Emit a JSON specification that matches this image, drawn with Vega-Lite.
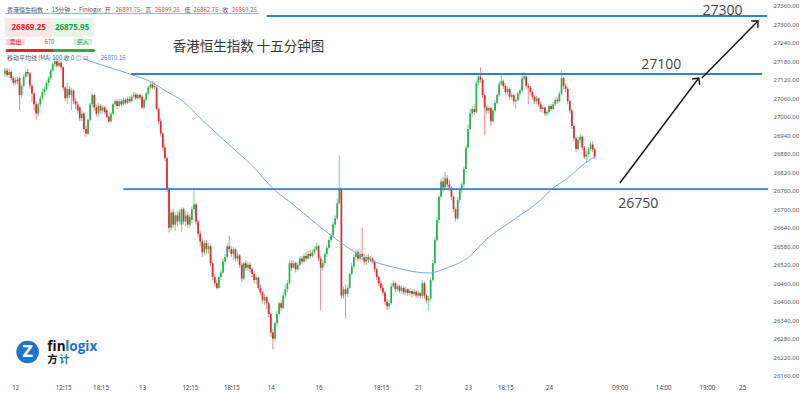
{
"$schema": "https://vega.github.io/schema/vega-lite/v6.json",
"width": 770, "height": 380,
"autosize": "none",
"padding": {"left": 0, "top": 0, "right": 30, "bottom": 13},
"background": "white",
"config": {"view": {"stroke": null}, "font": "Noto Sans",
"axis": {"labelOverlap": false, "labelFlush": false, "grid": false, "ticks": false, "domain": false, "title": null},
"axisX": {"labelFontSize": 6.2, "labelColor": "#444", "labelPadding": 4},
"axisY": {"labelFontSize": 6, "labelColor": "#555", "labelPadding": 3}
},
"datasets": {
"candles": [
{"t":0,"o":27140,"h":27160,"l":27130,"c":27150},
{"t":1,"o":27150,"h":27158,"l":27128,"c":27135},
{"t":2,"o":27135,"h":27155,"l":27125,"c":27145},
{"t":3,"o":27145,"h":27150,"l":27118,"c":27125},
{"t":4,"o":27125,"h":27132,"l":27100,"c":27110},
{"t":5,"o":27110,"h":27128,"l":27103,"c":27120},
{"t":6,"o":27120,"h":27130,"l":27105,"c":27115},
{"t":7,"o":27125,"h":27130,"l":27022,"c":27070},
{"t":8,"o":27070,"h":27105,"l":27060,"c":27100},
{"t":9,"o":27100,"h":27138,"l":27095,"c":27130},
{"t":10,"o":27130,"h":27152,"l":27125,"c":27145},
{"t":11,"o":27145,"h":27155,"l":27130,"c":27140},
{"t":12,"o":27140,"h":27145,"l":27090,"c":27100},
{"t":13,"o":27100,"h":27105,"l":27047,"c":27075},
{"t":14,"o":27075,"h":27080,"l":27020,"c":27040},
{"t":15,"o":27040,"h":27050,"l":26990,"c":27010},
{"t":16,"o":27010,"h":27045,"l":27000,"c":27040},
{"t":17,"o":27040,"h":27068,"l":27030,"c":27060},
{"t":18,"o":27060,"h":27090,"l":27052,"c":27080},
{"t":19,"o":27080,"h":27100,"l":27070,"c":27090},
{"t":20,"o":27090,"h":27118,"l":27082,"c":27110},
{"t":21,"o":27110,"h":27132,"l":27100,"c":27125},
{"t":22,"o":27125,"h":27158,"l":27118,"c":27150},
{"t":23,"o":27150,"h":27178,"l":27145,"c":27170},
{"t":24,"o":27170,"h":27192,"l":27160,"c":27180},
{"t":25,"o":27180,"h":27188,"l":27158,"c":27165},
{"t":26,"o":27165,"h":27185,"l":27160,"c":27175},
{"t":27,"o":27175,"h":27182,"l":27150,"c":27160},
{"t":28,"o":27160,"h":27165,"l":27085,"c":27095},
{"t":29,"o":27095,"h":27100,"l":27050,"c":27060},
{"t":30,"o":27060,"h":27110,"l":27040,"c":27090},
{"t":31,"o":27090,"h":27100,"l":27060,"c":27070},
{"t":32,"o":27070,"h":27095,"l":27022,"c":27085},
{"t":33,"o":27085,"h":27090,"l":27040,"c":27050},
{"t":34,"o":27050,"h":27060,"l":27025,"c":27040},
{"t":35,"o":27040,"h":27050,"l":27010,"c":27020},
{"t":36,"o":27030,"h":27035,"l":26985,"c":26995},
{"t":37,"o":26995,"h":27020,"l":26985,"c":27010},
{"t":38,"o":27010,"h":27015,"l":26950,"c":26960},
{"t":39,"o":26960,"h":26970,"l":26935,"c":26945},
{"t":40,"o":26945,"h":26995,"l":26940,"c":26990},
{"t":41,"o":26990,"h":27045,"l":26985,"c":27040},
{"t":42,"o":27040,"h":27078,"l":27030,"c":27070},
{"t":43,"o":27070,"h":27075,"l":27020,"c":27030},
{"t":44,"o":27030,"h":27040,"l":27000,"c":27010},
{"t":45,"o":27010,"h":27045,"l":27000,"c":27035},
{"t":46,"o":27035,"h":27040,"l":27010,"c":27020},
{"t":47,"o":27020,"h":27038,"l":27012,"c":27030},
{"t":48,"o":27030,"h":27035,"l":27008,"c":27015},
{"t":49,"o":27020,"h":27025,"l":26995,"c":27000},
{"t":50,"o":27000,"h":27005,"l":26980,"c":26985},
{"t":51,"o":26985,"h":27015,"l":26980,"c":27010},
{"t":52,"o":27010,"h":27045,"l":27005,"c":27040},
{"t":53,"o":27040,"h":27058,"l":27030,"c":27050},
{"t":54,"o":27050,"h":27055,"l":27025,"c":27035},
{"t":55,"o":27035,"h":27057,"l":27030,"c":27050},
{"t":56,"o":27050,"h":27058,"l":27032,"c":27040},
{"t":57,"o":27040,"h":27062,"l":27035,"c":27055},
{"t":58,"o":27055,"h":27060,"l":27038,"c":27045},
{"t":59,"o":27045,"h":27065,"l":27040,"c":27058},
{"t":60,"o":27058,"h":27066,"l":27045,"c":27050},
{"t":61,"o":27050,"h":27072,"l":27045,"c":27065},
{"t":62,"o":27065,"h":27080,"l":27058,"c":27072},
{"t":63,"o":27072,"h":27078,"l":27054,"c":27060},
{"t":64,"o":27060,"h":27076,"l":27055,"c":27070},
{"t":65,"o":27070,"h":27075,"l":27055,"c":27062},
{"t":66,"o":27065,"h":27070,"l":27025,"c":27030},
{"t":67,"o":27030,"h":27060,"l":27025,"c":27055},
{"t":68,"o":27055,"h":27080,"l":27050,"c":27075},
{"t":69,"o":27075,"h":27100,"l":27070,"c":27095},
{"t":70,"o":27095,"h":27115,"l":27088,"c":27105},
{"t":71,"o":27105,"h":27116,"l":27090,"c":27095},
{"t":72,"o":27095,"h":27112,"l":27088,"c":27100},
{"t":73,"o":27095,"h":27100,"l":27020,"c":27025},
{"t":74,"o":27025,"h":27030,"l":26975,"c":26985},
{"t":75,"o":26985,"h":26995,"l":26935,"c":26945},
{"t":76,"o":26945,"h":26950,"l":26890,"c":26900},
{"t":77,"o":26900,"h":26910,"l":26855,"c":26865},
{"t":78,"o":26865,"h":26870,"l":26755,"c":26765},
{"t":79,"o":26765,"h":26770,"l":26625,"c":26640},
{"t":80,"o":26640,"h":26700,"l":26630,"c":26690},
{"t":81,"o":26690,"h":26700,"l":26640,"c":26650},
{"t":82,"o":26650,"h":26690,"l":26630,"c":26680},
{"t":83,"o":26680,"h":26695,"l":26645,"c":26660},
{"t":84,"o":26660,"h":26700,"l":26650,"c":26690},
{"t":85,"o":26650,"h":26705,"l":26625,"c":26700},
{"t":86,"o":26700,"h":26705,"l":26650,"c":26660},
{"t":87,"o":26660,"h":26695,"l":26645,"c":26680},
{"t":88,"o":26680,"h":26690,"l":26640,"c":26650},
{"t":89,"o":26650,"h":26685,"l":26640,"c":26675},
{"t":90,"o":26665,"h":26710,"l":26655,"c":26700},
{"t":91,"o":26700,"h":26770,"l":26690,"c":26715},
{"t":92,"o":26715,"h":26720,"l":26650,"c":26660},
{"t":93,"o":26660,"h":26665,"l":26610,"c":26620},
{"t":94,"o":26620,"h":26630,"l":26580,"c":26595},
{"t":95,"o":26595,"h":26605,"l":26545,"c":26560},
{"t":96,"o":26560,"h":26600,"l":26550,"c":26590},
{"t":97,"o":26590,"h":26600,"l":26555,"c":26570},
{"t":98,"o":26570,"h":26590,"l":26555,"c":26580},
{"t":99,"o":26580,"h":26585,"l":26515,"c":26525},
{"t":100,"o":26525,"h":26530,"l":26470,"c":26480},
{"t":101,"o":26480,"h":26490,"l":26450,"c":26460},
{"t":102,"o":26460,"h":26470,"l":26440,"c":26445},
{"t":103,"o":26445,"h":26485,"l":26440,"c":26480},
{"t":104,"o":26480,"h":26505,"l":26470,"c":26495},
{"t":105,"o":26495,"h":26540,"l":26490,"c":26530},
{"t":106,"o":26530,"h":26555,"l":26520,"c":26545},
{"t":107,"o":26545,"h":26590,"l":26540,"c":26580},
{"t":108,"o":26580,"h":26615,"l":26560,"c":26570},
{"t":109,"o":26570,"h":26580,"l":26545,"c":26555},
{"t":110,"o":26555,"h":26578,"l":26535,"c":26570},
{"t":111,"o":26570,"h":26575,"l":26530,"c":26540},
{"t":112,"o":26540,"h":26560,"l":26530,"c":26550},
{"t":113,"o":26550,"h":26555,"l":26510,"c":26520},
{"t":114,"o":26520,"h":26525,"l":26465,"c":26475},
{"t":115,"o":26475,"h":26530,"l":26470,"c":26525},
{"t":116,"o":26525,"h":26535,"l":26500,"c":26510},
{"t":117,"o":26510,"h":26530,"l":26500,"c":26520},
{"t":118,"o":26520,"h":26528,"l":26495,"c":26505},
{"t":119,"o":26505,"h":26510,"l":26480,"c":26490},
{"t":120,"o":26490,"h":26495,"l":26460,"c":26470},
{"t":121,"o":26470,"h":26485,"l":26455,"c":26478},
{"t":122,"o":26478,"h":26482,"l":26438,"c":26445},
{"t":123,"o":26445,"h":26455,"l":26420,"c":26430},
{"t":124,"o":26430,"h":26435,"l":26395,"c":26405},
{"t":125,"o":26405,"h":26425,"l":26390,"c":26415},
{"t":126,"o":26415,"h":26420,"l":26375,"c":26395},
{"t":127,"o":26395,"h":26400,"l":26350,"c":26360},
{"t":128,"o":26360,"h":26365,"l":26285,"c":26300},
{"t":129,"o":26300,"h":26310,"l":26245,"c":26280},
{"t":130,"o":26280,"h":26335,"l":26270,"c":26330},
{"t":131,"o":26330,"h":26370,"l":26320,"c":26360},
{"t":132,"o":26360,"h":26400,"l":26355,"c":26395},
{"t":133,"o":26395,"h":26405,"l":26370,"c":26380},
{"t":134,"o":26380,"h":26430,"l":26375,"c":26420},
{"t":135,"o":26420,"h":26455,"l":26410,"c":26440},
{"t":136,"o":26440,"h":26470,"l":26430,"c":26460},
{"t":137,"o":26460,"h":26535,"l":26455,"c":26525},
{"t":138,"o":26525,"h":26535,"l":26500,"c":26510},
{"t":139,"o":26510,"h":26535,"l":26505,"c":26525},
{"t":140,"o":26525,"h":26530,"l":26495,"c":26505},
{"t":141,"o":26505,"h":26530,"l":26500,"c":26520},
{"t":142,"o":26520,"h":26548,"l":26515,"c":26540},
{"t":143,"o":26540,"h":26550,"l":26522,"c":26530},
{"t":144,"o":26530,"h":26558,"l":26525,"c":26548},
{"t":145,"o":26548,"h":26560,"l":26530,"c":26540},
{"t":146,"o":26540,"h":26565,"l":26535,"c":26555},
{"t":147,"o":26555,"h":26568,"l":26540,"c":26548},
{"t":148,"o":26548,"h":26570,"l":26542,"c":26560},
{"t":149,"o":26560,"h":26578,"l":26552,"c":26570},
{"t":150,"o":26570,"h":26590,"l":26565,"c":26580},
{"t":151,"o":26580,"h":26585,"l":26530,"c":26540},
{"t":152,"o":26540,"h":26548,"l":26373,"c":26510},
{"t":153,"o":26510,"h":26535,"l":26500,"c":26525},
{"t":154,"o":26525,"h":26560,"l":26518,"c":26555},
{"t":155,"o":26555,"h":26582,"l":26545,"c":26575},
{"t":156,"o":26575,"h":26610,"l":26570,"c":26600},
{"t":157,"o":26600,"h":26622,"l":26592,"c":26615},
{"t":158,"o":26615,"h":26660,"l":26610,"c":26650},
{"t":159,"o":26650,"h":26680,"l":26640,"c":26670},
{"t":160,"o":26670,"h":26735,"l":26665,"c":26720},
{"t":161,"o":26720,"h":26875,"l":26715,"c":26765},
{"t":162,"o":26765,"h":26770,"l":26410,"c":26420},
{"t":163,"o":26420,"h":26450,"l":26410,"c":26440},
{"t":164,"o":26440,"h":26455,"l":26345,"c":26425},
{"t":165,"o":26425,"h":26455,"l":26415,"c":26445},
{"t":166,"o":26445,"h":26495,"l":26440,"c":26490},
{"t":167,"o":26490,"h":26525,"l":26485,"c":26515},
{"t":168,"o":26515,"h":26552,"l":26505,"c":26545},
{"t":169,"o":26545,"h":26570,"l":26535,"c":26560},
{"t":170,"o":26560,"h":26570,"l":26530,"c":26540},
{"t":171,"o":26540,"h":26565,"l":26530,"c":26555},
{"t":172,"o":26555,"h":26640,"l":26535,"c":26545},
{"t":173,"o":26545,"h":26555,"l":26520,"c":26530},
{"t":174,"o":26530,"h":26552,"l":26518,"c":26545},
{"t":175,"o":26545,"h":26555,"l":26525,"c":26535},
{"t":176,"o":26535,"h":26548,"l":26528,"c":26540},
{"t":177,"o":26540,"h":26546,"l":26522,"c":26530},
{"t":178,"o":26530,"h":26535,"l":26495,"c":26505},
{"t":179,"o":26505,"h":26510,"l":26470,"c":26480},
{"t":180,"o":26480,"h":26485,"l":26450,"c":26460},
{"t":181,"o":26460,"h":26468,"l":26435,"c":26445},
{"t":182,"o":26445,"h":26455,"l":26420,"c":26430},
{"t":183,"o":26430,"h":26435,"l":26390,"c":26400},
{"t":184,"o":26400,"h":26410,"l":26373,"c":26385},
{"t":185,"o":26385,"h":26405,"l":26375,"c":26395},
{"t":186,"o":26395,"h":26460,"l":26390,"c":26450},
{"t":187,"o":26450,"h":26470,"l":26445,"c":26460},
{"t":188,"o":26460,"h":26465,"l":26430,"c":26440},
{"t":189,"o":26440,"h":26458,"l":26432,"c":26450},
{"t":190,"o":26450,"h":26455,"l":26428,"c":26435},
{"t":191,"o":26435,"h":26452,"l":26425,"c":26445},
{"t":192,"o":26445,"h":26450,"l":26422,"c":26430},
{"t":193,"o":26430,"h":26448,"l":26420,"c":26440},
{"t":194,"o":26440,"h":26445,"l":26418,"c":26428},
{"t":195,"o":26428,"h":26445,"l":26420,"c":26435},
{"t":196,"o":26435,"h":26440,"l":26415,"c":26425},
{"t":197,"o":26425,"h":26440,"l":26418,"c":26432},
{"t":198,"o":26432,"h":26438,"l":26412,"c":26420},
{"t":199,"o":26420,"h":26435,"l":26412,"c":26428},
{"t":200,"o":26428,"h":26432,"l":26410,"c":26418},
{"t":201,"o":26418,"h":26470,"l":26412,"c":26460},
{"t":202,"o":26460,"h":26465,"l":26410,"c":26420},
{"t":203,"o":26420,"h":26425,"l":26395,"c":26405},
{"t":204,"o":26405,"h":26418,"l":26370,"c":26410},
{"t":205,"o":26410,"h":26478,"l":26402,"c":26470},
{"t":206,"o":26470,"h":26535,"l":26465,"c":26525},
{"t":207,"o":26525,"h":26610,"l":26520,"c":26600},
{"t":208,"o":26600,"h":26675,"l":26595,"c":26665},
{"t":209,"o":26665,"h":26745,"l":26655,"c":26740},
{"t":210,"o":26740,"h":26800,"l":26730,"c":26790},
{"t":211,"o":26790,"h":26805,"l":26755,"c":26770},
{"t":212,"o":26770,"h":26820,"l":26765,"c":26800},
{"t":213,"o":26800,"h":26810,"l":26770,"c":26780},
{"t":214,"o":26780,"h":26795,"l":26760,"c":26770},
{"t":215,"o":26770,"h":26775,"l":26730,"c":26740},
{"t":216,"o":26740,"h":26745,"l":26690,"c":26700},
{"t":217,"o":26700,"h":26705,"l":26660,"c":26670},
{"t":218,"o":26670,"h":26740,"l":26665,"c":26730},
{"t":219,"o":26730,"h":26770,"l":26720,"c":26765},
{"t":220,"o":26765,"h":26790,"l":26750,"c":26780},
{"t":221,"o":26780,"h":26838,"l":26770,"c":26830},
{"t":222,"o":26830,"h":26910,"l":26820,"c":26900},
{"t":223,"o":26900,"h":26975,"l":26895,"c":26960},
{"t":224,"o":26960,"h":27025,"l":26955,"c":27010},
{"t":225,"o":27010,"h":27035,"l":27000,"c":27025},
{"t":226,"o":27025,"h":27040,"l":27005,"c":27015},
{"t":227,"o":27015,"h":27120,"l":27010,"c":27110},
{"t":228,"o":27110,"h":27140,"l":27100,"c":27130},
{"t":229,"o":27130,"h":27160,"l":27110,"c":27120},
{"t":230,"o":27120,"h":27125,"l":27060,"c":27070},
{"t":231,"o":27070,"h":27075,"l":26940,"c":27030},
{"t":232,"o":27030,"h":27038,"l":27008,"c":27020},
{"t":233,"o":27020,"h":27035,"l":27010,"c":27028},
{"t":234,"o":27028,"h":27032,"l":26970,"c":26985},
{"t":235,"o":26985,"h":27025,"l":26980,"c":27020},
{"t":236,"o":27020,"h":27052,"l":27015,"c":27045},
{"t":237,"o":27045,"h":27075,"l":27040,"c":27070},
{"t":238,"o":27070,"h":27115,"l":27065,"c":27105},
{"t":239,"o":27105,"h":27135,"l":27100,"c":27115},
{"t":240,"o":27115,"h":27120,"l":27090,"c":27100},
{"t":241,"o":27100,"h":27108,"l":27070,"c":27080},
{"t":242,"o":27080,"h":27098,"l":27072,"c":27090},
{"t":243,"o":27090,"h":27095,"l":27055,"c":27065},
{"t":244,"o":27065,"h":27078,"l":27055,"c":27070},
{"t":245,"o":27070,"h":27075,"l":27040,"c":27050},
{"t":246,"o":27050,"h":27062,"l":27025,"c":27055},
{"t":247,"o":27055,"h":27082,"l":27050,"c":27075},
{"t":248,"o":27075,"h":27092,"l":27068,"c":27085},
{"t":249,"o":27085,"h":27135,"l":27080,"c":27125},
{"t":250,"o":27125,"h":27145,"l":27118,"c":27130},
{"t":251,"o":27130,"h":27135,"l":27090,"c":27100},
{"t":252,"o":27100,"h":27108,"l":27040,"c":27095},
{"t":253,"o":27095,"h":27100,"l":27070,"c":27080},
{"t":254,"o":27080,"h":27088,"l":27055,"c":27065},
{"t":255,"o":27065,"h":27070,"l":27042,"c":27050},
{"t":256,"o":27050,"h":27068,"l":27040,"c":27060},
{"t":257,"o":27060,"h":27062,"l":27030,"c":27040},
{"t":258,"o":27040,"h":27048,"l":27015,"c":27025},
{"t":259,"o":27025,"h":27038,"l":27012,"c":27030},
{"t":260,"o":27030,"h":27035,"l":27002,"c":27010},
{"t":261,"o":27010,"h":27022,"l":27000,"c":27015},
{"t":262,"o":27015,"h":27040,"l":27008,"c":27035},
{"t":263,"o":27035,"h":27042,"l":27018,"c":27025},
{"t":264,"o":27025,"h":27048,"l":27020,"c":27040},
{"t":265,"o":27040,"h":27062,"l":27035,"c":27055},
{"t":266,"o":27055,"h":27062,"l":27042,"c":27050},
{"t":267,"o":27050,"h":27082,"l":27045,"c":27075},
{"t":268,"o":27075,"h":27150,"l":27070,"c":27125},
{"t":269,"o":27125,"h":27130,"l":27090,"c":27100},
{"t":270,"o":27100,"h":27108,"l":27080,"c":27090},
{"t":271,"o":27090,"h":27095,"l":27040,"c":27050},
{"t":272,"o":27050,"h":27055,"l":27010,"c":27020},
{"t":273,"o":27020,"h":27025,"l":26960,"c":26970},
{"t":274,"o":26970,"h":26975,"l":26920,"c":26930},
{"t":275,"o":26930,"h":26935,"l":26885,"c":26895},
{"t":276,"o":26895,"h":26935,"l":26890,"c":26925},
{"t":277,"o":26925,"h":26945,"l":26915,"c":26935},
{"t":278,"o":26935,"h":26940,"l":26890,"c":26900},
{"t":279,"o":26900,"h":26905,"l":26862,"c":26870},
{"t":280,"o":26870,"h":26888,"l":26850,"c":26878},
{"t":281,"o":26878,"h":26902,"l":26870,"c":26895},
{"t":282,"o":26895,"h":26918,"l":26888,"c":26910},
{"t":283,"o":26910,"h":26920,"l":26885,"c":26893},
{"t":284,"o":26893.75,"h":26899.25,"l":26862.75,"c":26869.25}
]
},
"layer": [
{
"data": {"name": "candles"},
"mark": {"type": "rule", "strokeWidth": 0.8},
"encoding": {
"x": {"field": "t", "type": "quantitative", "title": null, "scale": {"domain": [0, 366], "nice": false, "zero": false},
"axis": {"values": [5,28,46,66,89,109,128,151,181,199,223,241,262,296,317,338,355],
"labelExpr": "['12','12:15','18:15','13','12:15','18:15','14','16','18:15','21','23','18:15','24','09:00','14:00','19:00','25'][indexof([5,28,46,66,89,109,128,151,181,199,223,241,262,296,317,338,355], datum.value)]",
"labelOverlap": false, "title": null}},
"y": {"field": "l", "type": "quantitative", "title": null, "scale": {"domain": [26146, 27378.5], "nice": false, "zero": false},
"axis": {"orient": "right", "values": [26160,26220,26280,26340,26400,26460,26520,26580,26640,26700,26760,26820,26880,26940,27000,27060,27120,27180,27240,27300,27360],
"format": ".2f", "labelOverlap": false, "title": null}},
"y2": {"field": "h"},
"color": {"condition": {"test": "datum.c >= datum.o", "value": "#5cc97a"}, "value": "#e66a6a"}
}
},
{
"data": {"name": "candles"},
"mark": {"type": "bar", "width": 1.7},
"encoding": {
"x": {"field": "t", "type": "quantitative", "title": null, "scale": {"domain": [0, 366], "nice": false, "zero": false},
"axis": {"values": [5,28,46,66,89,109,128,151,181,199,223,241,262,296,317,338,355],
"labelExpr": "['12','12:15','18:15','13','12:15','18:15','14','16','18:15','21','23','18:15','24','09:00','14:00','19:00','25'][indexof([5,28,46,66,89,109,128,151,181,199,223,241,262,296,317,338,355], datum.value)]",
"labelOverlap": false, "title": null}},
"y": {"field": "o", "type": "quantitative", "title": null, "scale": {"domain": [26146, 27378.5], "nice": false, "zero": false},
"axis": {"orient": "right", "values": [26160,26220,26280,26340,26400,26460,26520,26580,26640,26700,26760,26820,26880,26940,27000,27060,27120,27180,27240,27300,27360],
"format": ".2f", "labelOverlap": false, "title": null}},
"y2": {"field": "c"},
"color": {"condition": {"test": "datum.c >= datum.o", "value": "#24b14c"}, "value": "#e0262c"}
}
},
{
"data": {"values": [
{"t":38,"m":27187},{"t":50,"m":27160},{"t":60.4,"m":27138},{"t":70.3,"m":27113},{"t":77.5,"m":27083},{"t":85.5,"m":27051},{"t":95,"m":26989},{"t":110.7,"m":26892},{"t":118.8,"m":26843},{"t":129.8,"m":26762},{"t":137.8,"m":26720},{"t":156.8,"m":26616},{"t":172.5,"m":26545},{"t":188.7,"m":26509},{"t":204.4,"m":26493},{"t":212.5,"m":26509},{"t":223.4,"m":26545},{"t":231.5,"m":26600},{"t":247,"m":26675},{"t":258,"m":26730},{"t":262.8,"m":26762},{"t":271,"m":26801},{"t":279.5,"m":26850},{"t":284,"m":26870}
]},
"mark": {"type": "line", "color": "#78a9d2", "strokeWidth": 1, "interpolate": "monotone"},
"encoding": {
"x": {"field": "t", "type": "quantitative", "title": null, "scale": {"domain": [0, 366], "nice": false, "zero": false},
"axis": {"values": [5,28,46,66,89,109,128,151,181,199,223,241,262,296,317,338,355],
"labelExpr": "['12','12:15','18:15','13','12:15','18:15','14','16','18:15','21','23','18:15','24','09:00','14:00','19:00','25'][indexof([5,28,46,66,89,109,128,151,181,199,223,241,262,296,317,338,355], datum.value)]",
"labelOverlap": false, "title": null}},
"y": {"field": "m", "type": "quantitative", "title": null, "scale": {"domain": [26146, 27378.5], "nice": false, "zero": false},
"axis": {"orient": "right", "values": [26160,26220,26280,26340,26400,26460,26520,26580,26640,26700,26760,26820,26880,26940,27000,27060,27120,27180,27240,27300,27360],
"format": ".2f", "labelOverlap": false, "title": null}}
}
},
{
"data": {"values": [
{"t1":126,"t2":367,"p":27326.6},
{"t1":60.8,"t2":364.6,"p":27138.5},
{"t1":57,"t2":367.4,"p":26765}
]},
"mark": {"type": "rule", "color": "#2b83d6", "strokeWidth": 1.8},
"encoding": {
"x": {"field": "t1", "type": "quantitative", "title": null, "scale": {"domain": [0, 366], "nice": false, "zero": false},
"axis": {"values": [5,28,46,66,89,109,128,151,181,199,223,241,262,296,317,338,355],
"labelExpr": "['12','12:15','18:15','13','12:15','18:15','14','16','18:15','21','23','18:15','24','09:00','14:00','19:00','25'][indexof([5,28,46,66,89,109,128,151,181,199,223,241,262,296,317,338,355], datum.value)]",
"labelOverlap": false, "title": null}},
"x2": {"field": "t2"},
"y": {"field": "p", "type": "quantitative", "title": null, "scale": {"domain": [26146, 27378.5], "nice": false, "zero": false},
"axis": {"orient": "right", "values": [26160,26220,26280,26340,26400,26460,26520,26580,26640,26700,26760,26820,26880,26940,27000,27060,27120,27180,27240,27300,27360],
"format": ".2f", "labelOverlap": false, "title": null}}
}
},
{
"data": {"values": [
{"t1":296.1,"p1":26785,"t2":334.1,"p2":27125.5},
{"t1":335.6,"p1":27125.5,"t2":362.6,"p2":27310.4}
]},
"mark": {"type": "rule", "color": "#111", "strokeWidth": 1.4},
"encoding": {
"x": {"field": "t1", "type": "quantitative", "title": null, "scale": {"domain": [0, 366], "nice": false, "zero": false},
"axis": {"values": [5,28,46,66,89,109,128,151,181,199,223,241,262,296,317,338,355],
"labelExpr": "['12','12:15','18:15','13','12:15','18:15','14','16','18:15','21','23','18:15','24','09:00','14:00','19:00','25'][indexof([5,28,46,66,89,109,128,151,181,199,223,241,262,296,317,338,355], datum.value)]",
"labelOverlap": false, "title": null}},
"x2": {"field": "t2"},
"y": {"field": "p1", "type": "quantitative", "title": null, "scale": {"domain": [26146, 27378.5], "nice": false, "zero": false},
"axis": {"orient": "right", "values": [26160,26220,26280,26340,26400,26460,26520,26580,26640,26700,26760,26820,26880,26940,27000,27060,27120,27180,27240,27300,27360],
"format": ".2f", "labelOverlap": false, "title": null}},
"y2": {"field": "p2"}
}
},
{
"data": {"values": [{"t":334.1,"p":27125.5}]},
"mark": {"type": "point", "shape": "M-1,1L0,0L1,1", "size": 90, "filled": false, "stroke": "#111", "strokeWidth": 1.4, "angle": 37, "opacity": 1},
"encoding": {
"x": {"field": "t", "type": "quantitative", "title": null, "scale": {"domain": [0, 366], "nice": false, "zero": false},
"axis": {"values": [5,28,46,66,89,109,128,151,181,199,223,241,262,296,317,338,355],
"labelExpr": "['12','12:15','18:15','13','12:15','18:15','14','16','18:15','21','23','18:15','24','09:00','14:00','19:00','25'][indexof([5,28,46,66,89,109,128,151,181,199,223,241,262,296,317,338,355], datum.value)]",
"labelOverlap": false, "title": null}},
"y": {"field": "p", "type": "quantitative", "title": null, "scale": {"domain": [26146, 27378.5], "nice": false, "zero": false},
"axis": {"orient": "right", "values": [26160,26220,26280,26340,26400,26460,26520,26580,26640,26700,26760,26820,26880,26940,27000,27060,27120,27180,27240,27300,27360],
"format": ".2f", "labelOverlap": false, "title": null}}
}
},
{
"data": {"values": [{"t":362.6,"p":27310.4}]},
"mark": {"type": "point", "shape": "M-1,1L0,0L1,1", "size": 90, "filled": false, "stroke": "#111", "strokeWidth": 1.4, "angle": 45, "opacity": 1},
"encoding": {
"x": {"field": "t", "type": "quantitative", "title": null, "scale": {"domain": [0, 366], "nice": false, "zero": false},
"axis": {"values": [5,28,46,66,89,109,128,151,181,199,223,241,262,296,317,338,355],
"labelExpr": "['12','12:15','18:15','13','12:15','18:15','14','16','18:15','21','23','18:15','24','09:00','14:00','19:00','25'][indexof([5,28,46,66,89,109,128,151,181,199,223,241,262,296,317,338,355], datum.value)]",
"labelOverlap": false, "title": null}},
"y": {"field": "p", "type": "quantitative", "title": null, "scale": {"domain": [26146, 27378.5], "nice": false, "zero": false},
"axis": {"orient": "right", "values": [26160,26220,26280,26340,26400,26460,26520,26580,26640,26700,26760,26820,26880,26940,27000,27060,27120,27180,27240,27300,27360],
"format": ".2f", "labelOverlap": false, "title": null}}
}
},
{
"data": {"values": [
{"t":345.5,"p":27343,"s":"27300"},
{"t":316,"p":27168,"s":"27100"},
{"t":305,"p":26717,"s":"26750"}
]},
"mark": {"type": "text", "font": "Open Sans", "fontSize": 14, "color": "#444", "align": "center", "baseline": "middle"},
"encoding": {
"x": {"field": "t", "type": "quantitative", "title": null, "scale": {"domain": [0, 366], "nice": false, "zero": false},
"axis": {"values": [5,28,46,66,89,109,128,151,181,199,223,241,262,296,317,338,355],
"labelExpr": "['12','12:15','18:15','13','12:15','18:15','14','16','18:15','21','23','18:15','24','09:00','14:00','19:00','25'][indexof([5,28,46,66,89,109,128,151,181,199,223,241,262,296,317,338,355], datum.value)]",
"labelOverlap": false, "title": null}},
"y": {"field": "p", "type": "quantitative", "title": null, "scale": {"domain": [26146, 27378.5], "nice": false, "zero": false},
"axis": {"orient": "right", "values": [26160,26220,26280,26340,26400,26460,26520,26580,26640,26700,26760,26820,26880,26940,27000,27060,27120,27180,27240,27300,27360],
"format": ".2f", "labelOverlap": false, "title": null}},
"text": {"field": "s"}
}
},
{
"data": {"values": [{"t":80.8,"p":27226,"s":"香港恒生指数 十五分钟图"}]},
"mark": {"type": "text", "font": "Noto Sans CJK SC", "fontSize": 13.5, "color": "#333", "align": "left", "baseline": "middle"},
"encoding": {
"x": {"field": "t", "type": "quantitative", "title": null, "scale": {"domain": [0, 366], "nice": false, "zero": false},
"axis": {"values": [5,28,46,66,89,109,128,151,181,199,223,241,262,296,317,338,355],
"labelExpr": "['12','12:15','18:15','13','12:15','18:15','14','16','18:15','21','23','18:15','24','09:00','14:00','19:00','25'][indexof([5,28,46,66,89,109,128,151,181,199,223,241,262,296,317,338,355], datum.value)]",
"labelOverlap": false, "title": null}},
"y": {"field": "p", "type": "quantitative", "title": null, "scale": {"domain": [26146, 27378.5], "nice": false, "zero": false},
"axis": {"orient": "right", "values": [26160,26220,26280,26340,26400,26460,26520,26580,26640,26700,26760,26820,26880,26940,27000,27060,27120,27180,27240,27300,27360],
"format": ".2f", "labelOverlap": false, "title": null}},
"text": {"field": "s"}
}
},
{
"data": {"values": [{"t1":0,"t2":122,"p":27334.7}]},
"mark": {"type": "rule", "color": "#9fb4c8", "strokeWidth": 1},
"encoding": {
"x": {"field": "t1", "type": "quantitative", "title": null, "scale": {"domain": [0, 366], "nice": false, "zero": false},
"axis": {"values": [5,28,46,66,89,109,128,151,181,199,223,241,262,296,317,338,355],
"labelExpr": "['12','12:15','18:15','13','12:15','18:15','14','16','18:15','21','23','18:15','24','09:00','14:00','19:00','25'][indexof([5,28,46,66,89,109,128,151,181,199,223,241,262,296,317,338,355], datum.value)]",
"labelOverlap": false, "title": null}},
"x2": {"field": "t2"},
"y": {"field": "p", "type": "quantitative", "title": null, "scale": {"domain": [26146, 27378.5], "nice": false, "zero": false},
"axis": {"orient": "right", "values": [26160,26220,26280,26340,26400,26460,26520,26580,26640,26700,26760,26820,26880,26940,27000,27060,27120,27180,27240,27300,27360],
"format": ".2f", "labelOverlap": false, "title": null}}
}
},
{
"data": {"values": [
{"t":0.95,"p":27346,"s":"香港恒生指数 · 15分钟 · Finlogix","k":"g"},
{"t":48,"p":27346,"s":"开","k":"g"},
{"t":53.2,"p":27346,"s":"26893.75","k":"r"},
{"t":67.5,"p":27346,"s":"高","k":"g"},
{"t":72.2,"p":27346,"s":"26899.25","k":"r"},
{"t":86.5,"p":27346,"s":"低","k":"g"},
{"t":90.8,"p":27346,"s":"26862.75","k":"r"},
{"t":104.6,"p":27346,"s":"收","k":"g"},
{"t":109.3,"p":27346,"s":"26869.25","k":"r"},
{"t":0.95,"p":27190,"s":"移动平均线 (MA)  100  收  0  ◎  ⊡","k":"g"},
{"t":46.1,"p":27190,"s":"26870.16","k":"b"}
]},
"mark": {"type": "text", "font": "Noto Sans CJK SC", "fontSize": 6, "align": "left", "baseline": "middle"},
"encoding": {
"x": {"field": "t", "type": "quantitative", "title": null, "scale": {"domain": [0, 366], "nice": false, "zero": false},
"axis": {"values": [5,28,46,66,89,109,128,151,181,199,223,241,262,296,317,338,355],
"labelExpr": "['12','12:15','18:15','13','12:15','18:15','14','16','18:15','21','23','18:15','24','09:00','14:00','19:00','25'][indexof([5,28,46,66,89,109,128,151,181,199,223,241,262,296,317,338,355], datum.value)]",
"labelOverlap": false, "title": null}},
"y": {"field": "p", "type": "quantitative", "title": null, "scale": {"domain": [26146, 27378.5], "nice": false, "zero": false},
"axis": {"orient": "right", "values": [26160,26220,26280,26340,26400,26460,26520,26580,26640,26700,26760,26820,26880,26940,27000,27060,27120,27180,27240,27300,27360],
"format": ".2f", "labelOverlap": false, "title": null}},
"text": {"field": "s"},
"color": {"field": "k", "type": "nominal", "scale": {"domain": ["g","r","b"], "range": ["#555555","#e0474c","#4a8cc2"]}, "legend": null}
}
},
{
"data": {"values": [
{"t1":0,"t2":22.8,"p1":27320,"p2":27258.5,"k":"s"},
{"t1":22.8,"t2":42.8,"p1":27320,"p2":27258.5,"k":"b"},
{"t1":0.5,"t2":9.5,"p1":27252,"p2":27232.5,"k":"s2"},
{"t1":33,"t2":42,"p1":27252,"p2":27232.5,"k":"b2"}
]},
"mark": {"type": "rect"},
"encoding": {
"x": {"field": "t1", "type": "quantitative", "title": null, "scale": {"domain": [0, 366], "nice": false, "zero": false},
"axis": {"values": [5,28,46,66,89,109,128,151,181,199,223,241,262,296,317,338,355],
"labelExpr": "['12','12:15','18:15','13','12:15','18:15','14','16','18:15','21','23','18:15','24','09:00','14:00','19:00','25'][indexof([5,28,46,66,89,109,128,151,181,199,223,241,262,296,317,338,355], datum.value)]",
"labelOverlap": false, "title": null}},
"x2": {"field": "t2"},
"y": {"field": "p1", "type": "quantitative", "title": null, "scale": {"domain": [26146, 27378.5], "nice": false, "zero": false},
"axis": {"orient": "right", "values": [26160,26220,26280,26340,26400,26460,26520,26580,26640,26700,26760,26820,26880,26940,27000,27060,27120,27180,27240,27300,27360],
"format": ".2f", "labelOverlap": false, "title": null}},
"y2": {"field": "p2"},
"fill": {"field": "k", "type": "nominal", "scale": {"domain": ["s","b","s2","b2"], "range": ["#fde6e6","#e4f6e8","#f9d3d3","#cfeed7"]}, "legend": null}
}
},
{
"data": {"values": [
{"t1":1,"t2":23.8,"p":27214.7,"k":"s"},
{"t1":23.8,"t2":42.8,"p":27214.7,"k":"b"}
]},
"mark": {"type": "rule", "strokeWidth": 3, "strokeCap": "round"},
"encoding": {
"x": {"field": "t1", "type": "quantitative", "title": null, "scale": {"domain": [0, 366], "nice": false, "zero": false},
"axis": {"values": [5,28,46,66,89,109,128,151,181,199,223,241,262,296,317,338,355],
"labelExpr": "['12','12:15','18:15','13','12:15','18:15','14','16','18:15','21','23','18:15','24','09:00','14:00','19:00','25'][indexof([5,28,46,66,89,109,128,151,181,199,223,241,262,296,317,338,355], datum.value)]",
"labelOverlap": false, "title": null}},
"x2": {"field": "t2"},
"y": {"field": "p", "type": "quantitative", "title": null, "scale": {"domain": [26146, 27378.5], "nice": false, "zero": false},
"axis": {"orient": "right", "values": [26160,26220,26280,26340,26400,26460,26520,26580,26640,26700,26760,26820,26880,26940,27000,27060,27120,27180,27240,27300,27360],
"format": ".2f", "labelOverlap": false, "title": null}},
"color": {"field": "k", "type": "nominal", "scale": {"domain": ["s","b"], "range": ["#e0262c","#24b14c"]}, "legend": null}
}
},
{
"data": {"values": [
{"t":11.4,"p":27287.7,"s":"26869.25","k":"s"},
{"t":32.3,"p":27287.7,"s":"26875.95","k":"b"}
]},
"mark": {"type": "text", "font": "Noto Sans", "fontSize": 8, "fontWeight": "bold", "align": "center", "baseline": "middle"},
"encoding": {
"x": {"field": "t", "type": "quantitative", "title": null, "scale": {"domain": [0, 366], "nice": false, "zero": false},
"axis": {"values": [5,28,46,66,89,109,128,151,181,199,223,241,262,296,317,338,355],
"labelExpr": "['12','12:15','18:15','13','12:15','18:15','14','16','18:15','21','23','18:15','24','09:00','14:00','19:00','25'][indexof([5,28,46,66,89,109,128,151,181,199,223,241,262,296,317,338,355], datum.value)]",
"labelOverlap": false, "title": null}},
"y": {"field": "p", "type": "quantitative", "title": null, "scale": {"domain": [26146, 27378.5], "nice": false, "zero": false},
"axis": {"orient": "right", "values": [26160,26220,26280,26340,26400,26460,26520,26580,26640,26700,26760,26820,26880,26940,27000,27060,27120,27180,27240,27300,27360],
"format": ".2f", "labelOverlap": false, "title": null}},
"text": {"field": "s"},
"color": {"field": "k", "type": "nominal", "scale": {"domain": ["s","b","g"], "range": ["#e0262c","#1f9e45","#666666"]}, "legend": null}
}
},
{
"data": {"values": [
{"t":5,"p":27242.3,"s":"卖出","k":"s"},
{"t":21.4,"p":27242.3,"s":"670","k":"g"},
{"t":37.5,"p":27242.3,"s":"买入","k":"b"}
]},
"mark": {"type": "text", "font": "Noto Sans CJK SC", "fontSize": 6, "align": "center", "baseline": "middle"},
"encoding": {
"x": {"field": "t", "type": "quantitative", "title": null, "scale": {"domain": [0, 366], "nice": false, "zero": false},
"axis": {"values": [5,28,46,66,89,109,128,151,181,199,223,241,262,296,317,338,355],
"labelExpr": "['12','12:15','18:15','13','12:15','18:15','14','16','18:15','21','23','18:15','24','09:00','14:00','19:00','25'][indexof([5,28,46,66,89,109,128,151,181,199,223,241,262,296,317,338,355], datum.value)]",
"labelOverlap": false, "title": null}},
"y": {"field": "p", "type": "quantitative", "title": null, "scale": {"domain": [26146, 27378.5], "nice": false, "zero": false},
"axis": {"orient": "right", "values": [26160,26220,26280,26340,26400,26460,26520,26580,26640,26700,26760,26820,26880,26940,27000,27060,27120,27180,27240,27300,27360],
"format": ".2f", "labelOverlap": false, "title": null}},
"text": {"field": "s"},
"color": {"field": "k", "type": "nominal", "scale": {"domain": ["s","b","g"], "range": ["#e0262c","#1f9e45","#666666"]}, "legend": null}
}
},
{
"data": {"values": [{"t":10.9,"p":26237}]},
"mark": {"type": "point", "shape": "circle", "size": 510, "filled": true, "color": "#1c74cc", "opacity": 1},
"encoding": {
"x": {"field": "t", "type": "quantitative", "title": null, "scale": {"domain": [0, 366], "nice": false, "zero": false},
"axis": {"values": [5,28,46,66,89,109,128,151,181,199,223,241,262,296,317,338,355],
"labelExpr": "['12','12:15','18:15','13','12:15','18:15','14','16','18:15','21','23','18:15','24','09:00','14:00','19:00','25'][indexof([5,28,46,66,89,109,128,151,181,199,223,241,262,296,317,338,355], datum.value)]",
"labelOverlap": false, "title": null}},
"y": {"field": "p", "type": "quantitative", "title": null, "scale": {"domain": [26146, 27378.5], "nice": false, "zero": false},
"axis": {"orient": "right", "values": [26160,26220,26280,26340,26400,26460,26520,26580,26640,26700,26760,26820,26880,26940,27000,27060,27120,27180,27240,27300,27360],
"format": ".2f", "labelOverlap": false, "title": null}}
}
},
{
"data": {"values": [{"t":10.9,"p":26237,"s":"Z"}]},
"mark": {"type": "text", "font": "DejaVu Sans", "fontSize": 15, "fontWeight": "bold", "color": "white", "align": "center", "baseline": "middle"},
"encoding": {
"x": {"field": "t", "type": "quantitative", "title": null, "scale": {"domain": [0, 366], "nice": false, "zero": false},
"axis": {"values": [5,28,46,66,89,109,128,151,181,199,223,241,262,296,317,338,355],
"labelExpr": "['12','12:15','18:15','13','12:15','18:15','14','16','18:15','21','23','18:15','24','09:00','14:00','19:00','25'][indexof([5,28,46,66,89,109,128,151,181,199,223,241,262,296,317,338,355], datum.value)]",
"labelOverlap": false, "title": null}},
"y": {"field": "p", "type": "quantitative", "title": null, "scale": {"domain": [26146, 27378.5], "nice": false, "zero": false},
"axis": {"orient": "right", "values": [26160,26220,26280,26340,26400,26460,26520,26580,26640,26700,26760,26820,26880,26940,27000,27060,27120,27180,27240,27300,27360],
"format": ".2f", "labelOverlap": false, "title": null}},
"text": {"field": "s"}
}
},
{
"data": {"values": [
{"t":20.4,"p":26253,"s":"fin","k":"k"},
{"t":29,"p":26253,"s":"logix","k":"b"}
]},
"mark": {"type": "text", "font": "Open Sans", "fontSize": 13.5, "fontWeight": "bold", "align": "left", "baseline": "middle"},
"encoding": {
"x": {"field": "t", "type": "quantitative", "title": null, "scale": {"domain": [0, 366], "nice": false, "zero": false},
"axis": {"values": [5,28,46,66,89,109,128,151,181,199,223,241,262,296,317,338,355],
"labelExpr": "['12','12:15','18:15','13','12:15','18:15','14','16','18:15','21','23','18:15','24','09:00','14:00','19:00','25'][indexof([5,28,46,66,89,109,128,151,181,199,223,241,262,296,317,338,355], datum.value)]",
"labelOverlap": false, "title": null}},
"y": {"field": "p", "type": "quantitative", "title": null, "scale": {"domain": [26146, 27378.5], "nice": false, "zero": false},
"axis": {"orient": "right", "values": [26160,26220,26280,26340,26400,26460,26520,26580,26640,26700,26760,26820,26880,26940,27000,27060,27120,27180,27240,27300,27360],
"format": ".2f", "labelOverlap": false, "title": null}},
"text": {"field": "s"},
"color": {"field": "k", "type": "nominal", "scale": {"domain": ["k","b"], "range": ["#111111","#1c74cc"]}, "legend": null}
}
},
{
"data": {"values": [
{"t":20.4,"p":26210,"s":"方","k":"k"},
{"t":26.1,"p":26210,"s":"计","k":"b"}
]},
"mark": {"type": "text", "font": "Noto Sans CJK SC", "fontSize": 10.5, "fontWeight": "bold", "align": "left", "baseline": "middle"},
"encoding": {
"x": {"field": "t", "type": "quantitative", "title": null, "scale": {"domain": [0, 366], "nice": false, "zero": false},
"axis": {"values": [5,28,46,66,89,109,128,151,181,199,223,241,262,296,317,338,355],
"labelExpr": "['12','12:15','18:15','13','12:15','18:15','14','16','18:15','21','23','18:15','24','09:00','14:00','19:00','25'][indexof([5,28,46,66,89,109,128,151,181,199,223,241,262,296,317,338,355], datum.value)]",
"labelOverlap": false, "title": null}},
"y": {"field": "p", "type": "quantitative", "title": null, "scale": {"domain": [26146, 27378.5], "nice": false, "zero": false},
"axis": {"orient": "right", "values": [26160,26220,26280,26340,26400,26460,26520,26580,26640,26700,26760,26820,26880,26940,27000,27060,27120,27180,27240,27300,27360],
"format": ".2f", "labelOverlap": false, "title": null}},
"text": {"field": "s"},
"color": {"field": "k", "type": "nominal", "scale": {"domain": ["k","b"], "range": ["#111111","#1c74cc"]}, "legend": null}
}
}
],
"resolve": {"scale": {"color": "independent", "fill": "independent"}}
}
